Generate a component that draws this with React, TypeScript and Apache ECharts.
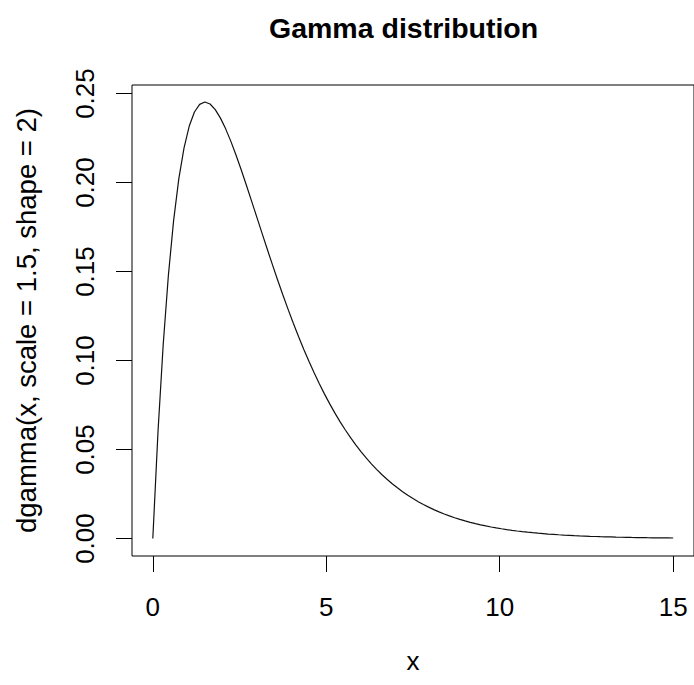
import React, { useEffect, useRef } from "react";
import * as echarts from "echarts";

// Sample points of the gamma density curve (scale = 1.5, shape = 2)
const xValues: number[] = [
  0, 0.15, 0.3, 0.45, 0.6, 0.75, 0.9, 1.05, 1.2, 1.35,
  1.5, 1.65, 1.8, 1.95, 2.1, 2.25, 2.4, 2.55, 2.7, 2.85,
  3, 3.15, 3.3, 3.45, 3.6, 3.75, 3.9, 4.05, 4.2, 4.35,
  4.5, 4.65, 4.8, 4.95, 5.1, 5.25, 5.4, 5.55, 5.7, 5.85,
  6, 6.15, 6.3, 6.45, 6.6, 6.75, 6.9, 7.05, 7.2, 7.35,
  7.5, 7.65, 7.8, 7.95, 8.1, 8.25, 8.4, 8.55, 8.7, 8.85,
  9, 9.15, 9.3, 9.45, 9.6, 9.75, 9.9, 10.05, 10.2, 10.35,
  10.5, 10.65, 10.8, 10.95, 11.1, 11.25, 11.4, 11.55, 11.7, 11.85,
  12, 12.15, 12.3, 12.45, 12.6, 12.75, 12.9, 13.05, 13.2, 13.35,
  13.5, 13.65, 13.8, 13.95, 14.1, 14.25, 14.4, 14.55, 14.7, 14.85,
  15,
];

const densityValues: number[] = [
  0, 0.06032, 0.10916, 0.14816, 0.17875, 0.20218, 0.21952, 0.23174, 0.23964, 0.24394,
  0.24525, 0.24411, 0.24096, 0.23619, 0.23016, 0.22313, 0.21536, 0.20704, 0.19836, 0.18945,
  0.18045, 0.17144, 0.16251, 0.15373, 0.14515, 0.13681, 0.12874, 0.12097, 0.11351, 0.10638,
  0.09957, 0.0931, 0.08696, 0.08114, 0.07565, 0.07046, 0.06558, 0.06099, 0.05667, 0.05263,
  0.04884, 0.0453, 0.04199, 0.0389, 0.03601, 0.03333, 0.03083, 0.0285, 0.02634, 0.02433,
  0.02246, 0.02073, 0.01913, 0.01764, 0.01626, 0.01499, 0.01381, 0.01271, 0.01171, 0.01077,
  0.00992, 0.00912, 0.00839, 0.00771, 0.00709, 0.00651, 0.00598, 0.0055, 0.00505, 0.00464,
  0.00426, 0.00391, 0.00359, 0.00329, 0.00301, 0.00277, 0.00253, 0.00233, 0.00213, 0.00195,
  0.00179, 0.00164, 0.0015, 0.00138, 0.00126, 0.00115, 0.00105, 0.00097, 0.00089, 0.00081,
  0.00074, 0.00068, 0.00062, 0.00057, 0.00052, 0.00047, 0.00043, 0.0004, 0.00036, 0.00033,
  0.0003,
];

const xTicks: number[] = [0, 5, 10, 15];
const yTicks: number[] = [0, 0.05, 0.1, 0.15, 0.2, 0.25];

const FONT = "'Liberation Sans', Arial, Helvetica, sans-serif";

export default function App() {
  const ref = useRef<HTMLDivElement>(null);

  useEffect(() => {
    if (!ref.current) return;
    const chart = echarts.init(ref.current, undefined, { renderer: "svg" });
    const points = xValues.map((x, i) => [x, densityValues[i]]);

    chart.setOption({
      animation: false,
      backgroundColor: "#ffffff",
      title: {
        text: "Gamma distribution",
        left: 264,
        top: 8,
        textStyle: {
          fontFamily: FONT,
          fontWeight: "bold",
          fontSize: 28.5,
          color: "#000",
        },
      },
      grid: {
        left: 132,
        top: 85,
        width: 567,
        height: 471,
        show: true,
        borderColor: "#000",
        borderWidth: 1,
        backgroundColor: "transparent",
      },
      xAxis: {
        type: "value",
        min: -0.6,
        max: 15.6,
        name: "x",
        nameLocation: "middle",
        nameGap: 92,
        nameTextStyle: { fontFamily: FONT, fontSize: 26, color: "#000" },
        axisLine: { show: false, onZero: false },
        splitLine: { show: false },
        axisTick: {
          show: true,
          inside: false,
          length: 16,
          customValues: xTicks,
          lineStyle: { color: "#000", width: 1 },
        },
        axisLabel: {
          customValues: xTicks,
          margin: 38,
          fontFamily: FONT,
          fontSize: 26,
          color: "#000",
          formatter: (v: number) => String(v),
        },
      },
      yAxis: {
        type: "value",
        min: -0.0098,
        max: 0.2548,
        name: "dgamma(x, scale = 1.5, shape = 2)",
        nameLocation: "middle",
        nameGap: 92,
        nameRotate: 90,
        nameTextStyle: { fontFamily: FONT, fontSize: 27.5, color: "#000" },
        axisLine: { show: false, onZero: false },
        splitLine: { show: false },
        axisTick: {
          show: true,
          inside: false,
          length: 16,
          customValues: yTicks,
          lineStyle: { color: "#000", width: 1 },
        },
        axisLabel: {
          customValues: yTicks,
          rotate: 90,
          margin: 34,
          fontFamily: FONT,
          fontSize: 26,
          color: "#000",
          formatter: (v: number) => v.toFixed(2),
        },
      },
      series: [
        {
          type: "line",
          data: points,
          showSymbol: false,
          smooth: false,
          lineStyle: { color: "#111", width: 1.2 },
        },
      ],
    });

    return () => chart.dispose();
  }, []);

  return (
    <div
      ref={ref}
      style={{ position: "fixed", left: 0, top: 0, width: 694, height: 685 }}
    />
  );
}
